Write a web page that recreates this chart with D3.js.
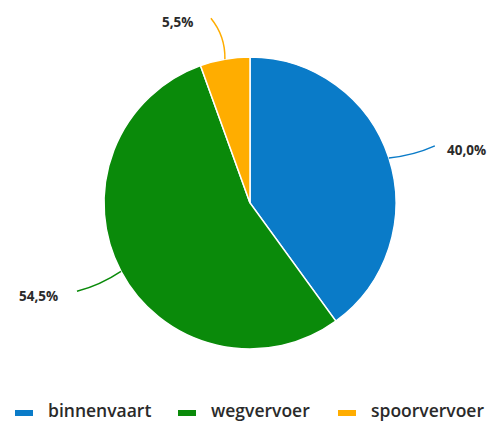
<!DOCTYPE html>
<html><head><meta charset="utf-8">
<script src="https://cdn.jsdelivr.net/npm/d3@7"></script>
<style>body{margin:0;background:#fff;} svg{display:block;}</style>
</head><body>
<svg id="c" width="491" height="421"></svg>
<script>
const categories = ["binnenvaart", "wegvervoer", "spoorvervoer"];
const values = [40.0, 54.5, 5.5];
const labels = ["40,0%", "54,5%", "5,5%"];
const colors = ["#0a7bc8", "#0a8a0a", "#ffad00"];

const svg = d3.select("#c");
const cx = 250, cy = 203, r = 146;
const g = svg.append("g").attr("transform", `translate(${cx},${cy})`);
const pie = d3.pie().sort(null).value(d => d)(values);
const arc = d3.arc().innerRadius(0).outerRadius(r);
g.selectAll("path.s").data(pie).enter().append("path")
  .attr("d", arc).attr("fill", (d, i) => colors[i])
  .attr("stroke", "#fff").attr("stroke-width", 1.5);

// leader lines and labels
const lab = [
  {dx: 46, dy: -12, bend: 4, tx: 447, ty: 155, anchor: "start"},
  {dx: -44, dy: 20, bend: -4, tx: 19, ty: 301, anchor: "start"},
  {dx: -14, dy: -41, bend: 8, tx: 162, ty: 27, anchor: "start"}
];
pie.forEach((d, i) => {
  const a = (d.startAngle + d.endAngle) / 2;
  const x0 = Math.sin(a) * r, y0 = -Math.cos(a) * r;
  const L = lab[i];
  const x1 = x0 + L.dx, y1 = y0 + L.dy;
  const mx = (x0 + x1) / 2, my = (y0 + y1) / 2;
  const len = Math.hypot(L.dx, L.dy);
  const nx = -L.dy / len, ny = L.dx / len;
  const p = d3.path();
  p.moveTo(x0, y0);
  p.quadraticCurveTo(mx + nx * L.bend, my + ny * L.bend, x1, y1);
  g.append("path").attr("d", p.toString()).attr("fill", "none")
    .attr("stroke", colors[i]).attr("stroke-width", 1.5);
  svg.append("text").attr("x", L.tx).attr("y", L.ty).attr("text-anchor", L.anchor)
    .attr("font-family", "Open Sans, sans-serif").attr("font-weight", "bold")
    .attr("font-size", 13.5).attr("fill", "#2a2a2a").text(labels[i]);
});

// legend
const legX = [15, 178, 338];
categories.forEach((c, i) => {
  svg.append("rect").attr("x", legX[i]).attr("y", 410).attr("width", 18).attr("height", 6)
    .attr("fill", colors[i]);
  svg.append("text").attr("x", legX[i] + 33).attr("y", 417)
    .attr("font-family", "Open Sans, sans-serif").attr("font-weight", 600)
    .attr("font-size", 17.5).attr("fill", "#2a2a2a").text(c);
});
</script>
</body></html>
